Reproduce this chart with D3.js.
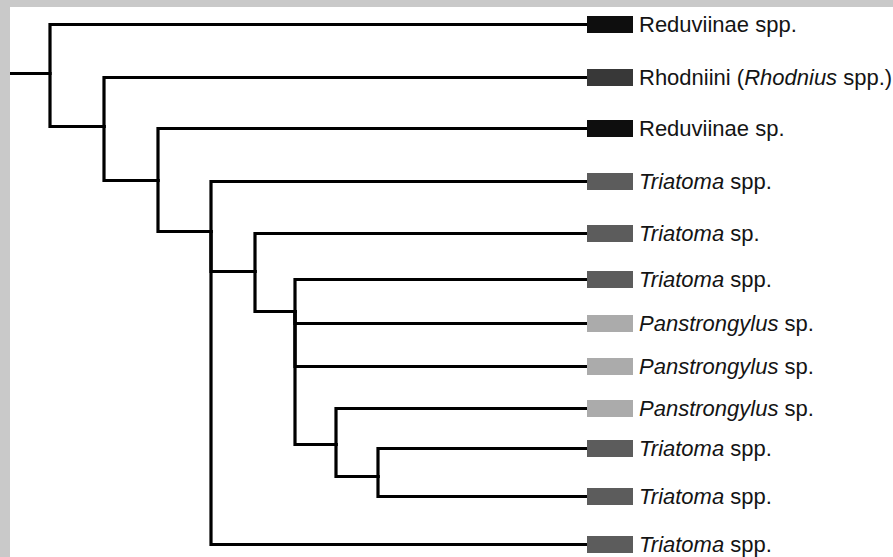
<!DOCTYPE html>
<html>
<head>
<meta charset="utf-8">
<script src="https://cdn.jsdelivr.net/npm/d3@7"></script>
<style>
  html, body { margin: 0; padding: 0; background: #c9c9c9; }
  svg { display: block; }
</style>
</head>
<body>
<svg id="chart" width="893" height="557"></svg>
<script>
// ---- Data ----
// Internal nodes of the cladogram (depth = distance from root stem, pos = vertical position of the node)
const nodeIds      = ["A", "B", "C", "D", "E", "F", "G", "H"];
const nodeParents  = [null, "A", "B", "C", "D", "E", "F", "G"];
const nodeDepths   = [40, 94, 148, 201, 245, 285, 326, 368];
const nodePos      = [49, 102, 156, 207, 247, 287, 420, 452];

// Leaves (terminal taxa), top to bottom; *text* = italic
const leafLabels   = [
  "Reduviinae spp.",
  "Rhodniini (*Rhodnius* spp.)",
  "Reduviinae sp.",
  "*Triatoma* spp.",
  "*Triatoma* sp.",
  "*Triatoma* spp.",
  "*Panstrongylus* sp.",
  "*Panstrongylus* sp.",
  "*Panstrongylus* sp.",
  "*Triatoma* spp.",
  "*Triatoma* spp.",
  "*Triatoma* spp."
];
const leafGroups   = ["Reduviinae", "Rhodniini", "Reduviinae", "Triatoma", "Triatoma", "Triatoma",
                      "Panstrongylus", "Panstrongylus", "Panstrongylus", "Triatoma", "Triatoma", "Triatoma"];
const leafParents  = ["A", "B", "C", "D", "E", "F", "F", "F", "G", "H", "H", "D"];
const leafPos      = [0, 53, 104, 157, 209, 255, 299, 342, 384, 424, 472, 520];
const leafDepth    = 577;

const groupNames   = ["Reduviinae", "Rhodniini", "Triatoma", "Panstrongylus"];
const groupColors  = ["#0e0e0e", "#383838", "#5c5c5c", "#ababab"];

// ---- Drawing ----
const W = 893, H = 557;
const svg = d3.select("#chart");

svg.append("rect").attr("x", 0).attr("y", 0).attr("width", W).attr("height", H).attr("fill", "#c9c9c9");
svg.append("rect").attr("x", 10).attr("y", 7).attr("width", W - 10).attr("height", H - 7).attr("fill", "#ffffff");

const x = d3.scaleLinear().domain([0, leafDepth]).range([10, 587]);
const y = d3.scaleLinear().domain([0, 520]).range([24.5, 544.5]);
const color = d3.scaleOrdinal().domain(groupNames).range(groupColors);

// Build node lookup
const nodes = new Map();
nodeIds.forEach((id, i) => nodes.set(id, {id, parent: nodeParents[i], depth: nodeDepths[i], pos: nodePos[i]}));
const leaves = leafLabels.map((label, i) => ({
  id: "leaf" + i, label, group: leafGroups[i], parent: leafParents[i], depth: leafDepth, pos: leafPos[i]
}));

const links = [];
nodes.forEach(n => { if (n.parent) links.push({source: nodes.get(n.parent), target: n}); });
leaves.forEach(l => links.push({source: nodes.get(l.parent), target: l}));

const g = svg.append("g");

// root stem
const root = nodes.get("A");
g.append("path")
  .attr("d", `M${x(0)},${y(root.pos)}H${x(root.depth)}`)
  .attr("fill", "none").attr("stroke", "#000").attr("stroke-width", 3.2);

g.selectAll("path.link")
  .data(links)
  .join("path")
  .attr("class", "link")
  .attr("d", d => `M${x(d.source.depth)},${y(d.source.pos)}V${y(d.target.pos)}H${x(d.target.depth)}`)
  .attr("fill", "none")
  .attr("stroke", "#000")
  .attr("stroke-width", 3.2)
  .attr("stroke-linejoin", "miter")
  .attr("stroke-linecap", "square");

// colour boxes
g.selectAll("rect.box")
  .data(leaves)
  .join("rect")
  .attr("class", "box")
  .attr("x", x(leafDepth))
  .attr("y", d => y(d.pos) - 8.5)
  .attr("width", 46)
  .attr("height", 17)
  .attr("fill", d => color(d.group));

// labels
const labels = g.selectAll("text.label")
  .data(leaves)
  .join("text")
  .attr("class", "label")
  .attr("x", x(leafDepth) + 52)
  .attr("y", d => y(d.pos) + 7.5)
  .attr("font-family", "'Liberation Sans', Arial, Helvetica, sans-serif")
  .attr("font-size", 22)
  .attr("fill", "#141414");

labels.each(function(d) {
  const t = d3.select(this);
  d.label.split("*").forEach((part, i) => {
    if (!part) return;
    t.append("tspan")
      .attr("font-style", i % 2 === 1 ? "italic" : "normal")
      .text(part);
  });
});
</script>
</body>
</html>
